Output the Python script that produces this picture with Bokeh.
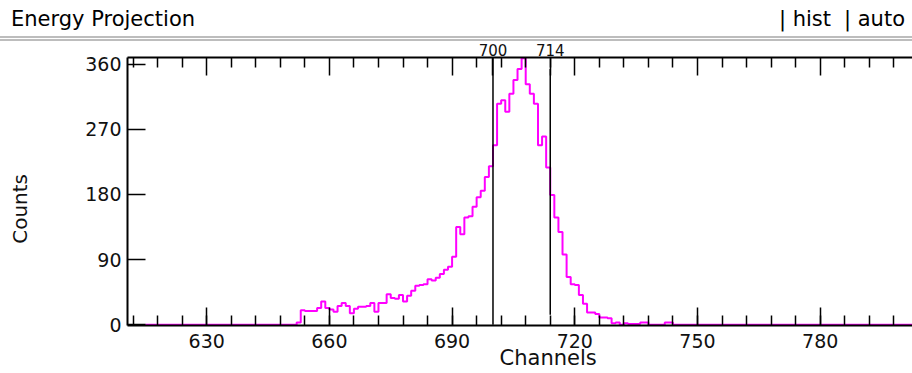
from bokeh.plotting import figure
from bokeh.models import Range1d, LinearAxis, SingleIntervalTicker, FixedTicker, Div
from bokeh.layouts import column
from bokeh.embed import file_html
from bokeh.resources import INLINE

# ---- data ----
first_channel = 615
counts = ([0] * 37 +
          [3, 20, 19, 19, 19, 23, 32, 23, 21, 18,          # 652-661
           26, 30, 26, 16, 22, 25, 25, 26, 30, 18,         # 662-671
           30, 30, 42, 37, 36, 41, 32, 40, 47, 54,         # 672-681
           55, 56, 63, 61, 65, 70, 76, 80, 94, 135,        # 682-691
           125, 148, 150, 163, 176, 185, 204, 219, 248, 305,  # 692-701
           310, 294, 319, 338, 353, 368, 332, 319, 305, 248,  # 702-711
           260, 217, 179, 148, 128, 97, 66, 56, 55, 41,    # 712-721
           29, 17, 17, 15, 10, 10, 9, 2, 3, 0,             # 722-731
           2, 1, 1, 1, 3, 3, 0, 0, 0, 0, 3, 3] +           # 732-743
          [0] * 72)
channels = list(range(first_channel, first_channel + len(counts)))

marker_channels = [700, 714]
marker_low = [0, 14]
marker_high = [369, 353]

x_major_ticks = [630, 660, 690, 720, 750, 780, 810]
x_minor_ticks = [t for t in range(606, 817, 6) if t not in x_major_ticks]
y_ticks = [0, 90, 180, 270, 360]
x_view = (610.64, 802.57)
y_view = (-1, 369)
x_title_pos = 713.5      # centre of the (wider) original channel axis
y_title_pos = 160

FONT = "DejaVu Sans"

header = Div(
    text=(
        '<div style="box-sizing:border-box;width:912px;height:41px;'
        'padding:10px 7px 0 11px;border-bottom:5px double #bdbdbd;'
        f"font-family:'{FONT}';font-size:21px;line-height:19px;color:#000;"
        'display:flex;justify-content:space-between;">'
        '<span>Energy Projection</span>'
        '<span>| hist<span style="display:inline-block;width:13px"></span>| auto</span>'
        '</div>'
    ),
    width=912, height=41, margin=(0, 0, 0, 0),
)

p = figure(width=912, height=340,
           x_range=Range1d(*x_view), y_range=Range1d(*y_view),
           output_backend="svg", toolbar_location=None,
           min_border_left=127, min_border_right=0,
           min_border_top=24, min_border_bottom=48,
           margin=(-8, 0, 0, 0))
p.outline_line_color = None
p.xgrid.visible = False
p.ygrid.visible = False
p.background_fill_color = "white"
p.border_fill_color = None


def style_ticks(ax):
    ax.axis_line_width = 2
    ax.axis_line_color = "black"
    ax.major_tick_in = 18
    ax.major_tick_out = 0
    ax.minor_tick_in = 10
    ax.minor_tick_out = 0
    ax.major_tick_line_width = 1.5
    ax.minor_tick_line_width = 1.5
    ax.major_tick_line_color = "black"
    ax.minor_tick_line_color = "black"
    ax.major_label_text_font = FONT
    ax.major_label_text_color = "#111111"


def bare(ax, size):
    ax.axis_line_color = None
    ax.major_tick_line_color = None
    ax.minor_tick_line_color = None
    ax.major_tick_in = 0
    ax.major_tick_out = 0
    ax.minor_tick_in = 0
    ax.minor_tick_out = 0
    ax.major_label_text_font = FONT
    ax.major_label_text_font_size = size
    ax.major_label_text_color = "#111111"


# bottom axis
xb = p.below[0]
xb.ticker = SingleIntervalTicker(interval=30, num_minor_ticks=5)
style_ticks(xb)
xb.major_label_text_font_size = "19px"
xb.major_label_standoff = 8

# "Channels" title row (second bottom axis, one labelled position)
xt = LinearAxis(ticker=FixedTicker(ticks=[x_title_pos], minor_ticks=[]),
                major_label_overrides={x_title_pos: "Channels"})
bare(xt, "21px")
xt.major_label_standoff = -5
p.add_layout(xt, "below")

# top axis: ticks plus the two marker labels
top = LinearAxis(ticker=FixedTicker(ticks=x_major_ticks + marker_channels,
                                    minor_ticks=x_minor_ticks),
                 major_label_overrides={t: "" for t in x_major_ticks})
style_ticks(top)
top.major_label_text_font_size = "15px"
top.major_label_standoff = 2
p.add_layout(top, "above")

# left axis
ya = p.left[0]
ya.ticker = FixedTicker(ticks=y_ticks, minor_ticks=[])
style_ticks(ya)
ya.major_label_text_font_size = "19px"
ya.major_label_standoff = 6

# "Counts" title (second left axis, one labelled position)
yt = LinearAxis(ticker=FixedTicker(ticks=[y_title_pos], minor_ticks=[]),
                major_label_overrides={y_title_pos: "Counts"},
                major_label_orientation="vertical")
bare(yt, "20px")
yt.major_label_standoff = 50
p.add_layout(yt, "left")

# histogram
p.step(channels, counts, mode="after", line_color="#FF00FF", line_width=2)

# marker lines
p.segment(x0=marker_channels, y0=marker_low, x1=marker_channels, y1=marker_high,
          line_color="black", line_width=1.5)

layout = column(header, p)
open("out.html", "w").write(file_html(layout, INLINE))
